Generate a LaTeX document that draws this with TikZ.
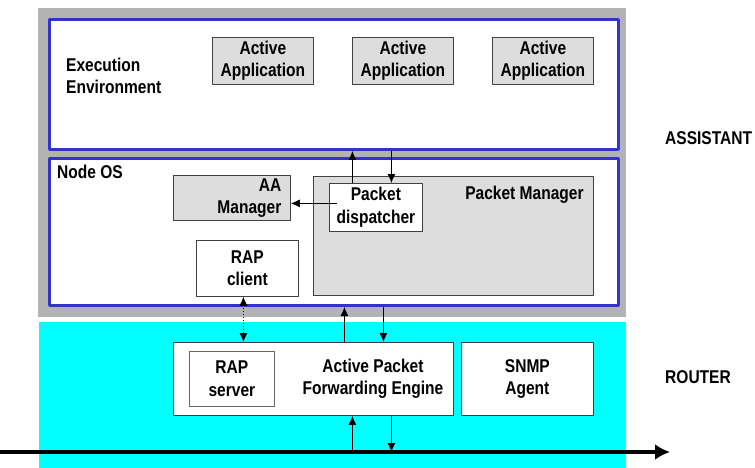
\documentclass[tikz,border=0pt]{standalone}
\usepackage{fontspec}
\setmainfont{Liberation Sans}[FakeStretch=0.84]
\usetikzlibrary{arrows.meta}

\begin{document}
\begin{tikzpicture}[x=1pt,y=-1pt,line join=round,
		font=\fontsize{18.5}{22.5}\selectfont\bfseries,
		box/.style={draw=black!75,line width=0.8pt,inner sep=0pt,anchor=north west,align=center},
		grybox/.style={box,fill=boxgray},
		layer/.style={draw=layerblue,line width=3pt,fill=white,inner sep=0pt,anchor=north west},
		txt/.style={inner sep=0pt,align=left},
		tip/.style={-{Latex[length=9,width=8]},line width=0.9pt}]
	\definecolor{shelfgray}{RGB}{179,179,179}
	\definecolor{layerblue}{RGB}{51,51,204}
	\definecolor{boxgray}{RGB}{221,221,221}
	\definecolor{routercyan}{RGB}{0,255,255}
	\useasboundingbox (0,0) rectangle (755,468);
	
	% assistant shelf and router area
	\fill[shelfgray] (38,8) rectangle (626,317);
	\fill[routercyan] (39,322) rectangle (626,468);
	
	\node[layer,minimum width=569,minimum height=130] (ee) at (48,18) {};
	\node[layer,minimum width=569,minimum height=147] (nos) at (48,157) {};
	
	\node[txt,anchor=west] (eelab) at (66,76) {Execution\\Environment};
	\node[txt,anchor=west] (noslab) at (57,172) {Node OS};
	
	\foreach \i/\x in {1/212,2/352,3/492}{
		\node[grybox,minimum width=101,minimum height=47] (app\i) at (\x,37) {Active\\Application};
	}
	
	% node OS contents
	\node[grybox,minimum width=280,minimum height=119] (pm) at (313,176) {};
	\node[txt,anchor=north east] (pmlab) at ([xshift=-10,yshift=-10]pm.north east) {Packet Manager};
	\node[box,fill=white,minimum width=93,minimum height=48] (disp) at (329,183) {Packet\\dispatcher};
	\node[grybox,align=right,inner xsep=9pt,text width=99,minimum height=45] (aam) at (173,175) {AA\\Manager};
	\node[box,fill=white,minimum width=102,minimum height=56] (rapc) at (196,240) {RAP\\client};
	
	% router contents
	\node[box,fill=white,minimum width=280,minimum height=73] (apfe) at (173,342) {};
	\node[txt,align=center] (apfelab) at (373,379) {Active Packet\\Forwarding Engine};
	\node[box,draw=black!60,fill=white,minimum width=85,minimum height=55] (raps) at (189,351) {RAP\\server};
	\node[box,fill=white,minimum width=132,minimum height=73] (snmp) at (461,342) {SNMP\\Agent};
	
	\node[txt,anchor=west] (asst) at (665,138) {ASSISTANT};
	\node[txt,anchor=west] (rout) at (665,377) {ROUTER};
	
	% the wire
	\coordinate (wireL) at (0,452);
	\coordinate (wireR) at (670,452);
	\draw[line width=4pt,-{Latex[length=15,width=16]}] (wireL) -- (wireR);
	
	\path ([xshift=-23.5]disp.north) coordinate (dispUp)
	([xshift=15.5]disp.north) coordinate (dispDn)
	([xshift=8,yshift=4]disp.west) coordinate (dispOut)
	([xshift=31]apfe.north) coordinate (apfeUp)
	([xshift=70]apfe.north) coordinate (apfeDn)
	([xshift=39]apfe.south) coordinate (apfeIn)
	([xshift=78]apfe.south) coordinate (apfeOut)
	([xshift=-4]rapc.south) coordinate (rapLink);
	
	\draw[tip] (dispUp) -- (dispUp |- ee.south);
	\draw[tip] (dispDn |- ee.south) -- (dispDn);
	\draw[tip] (dispOut) -- (dispOut -| aam.east);
	\draw[tip] (apfeUp) -- (apfeUp |- nos.south);
	\draw[tip] (apfeDn |- nos.south) -- (apfeDn);
	\draw[tip] (apfeIn |- wireL) -- (apfeIn);
	\draw[tip] (apfeOut) -- (apfeOut |- wireL);
	\draw[tip,{Latex[length=9,width=8]}-{Latex[length=9,width=8]},dotted,line width=0.7pt] (rapLink) -- (rapLink |- apfe.north);
\end{tikzpicture}
\end{document}
